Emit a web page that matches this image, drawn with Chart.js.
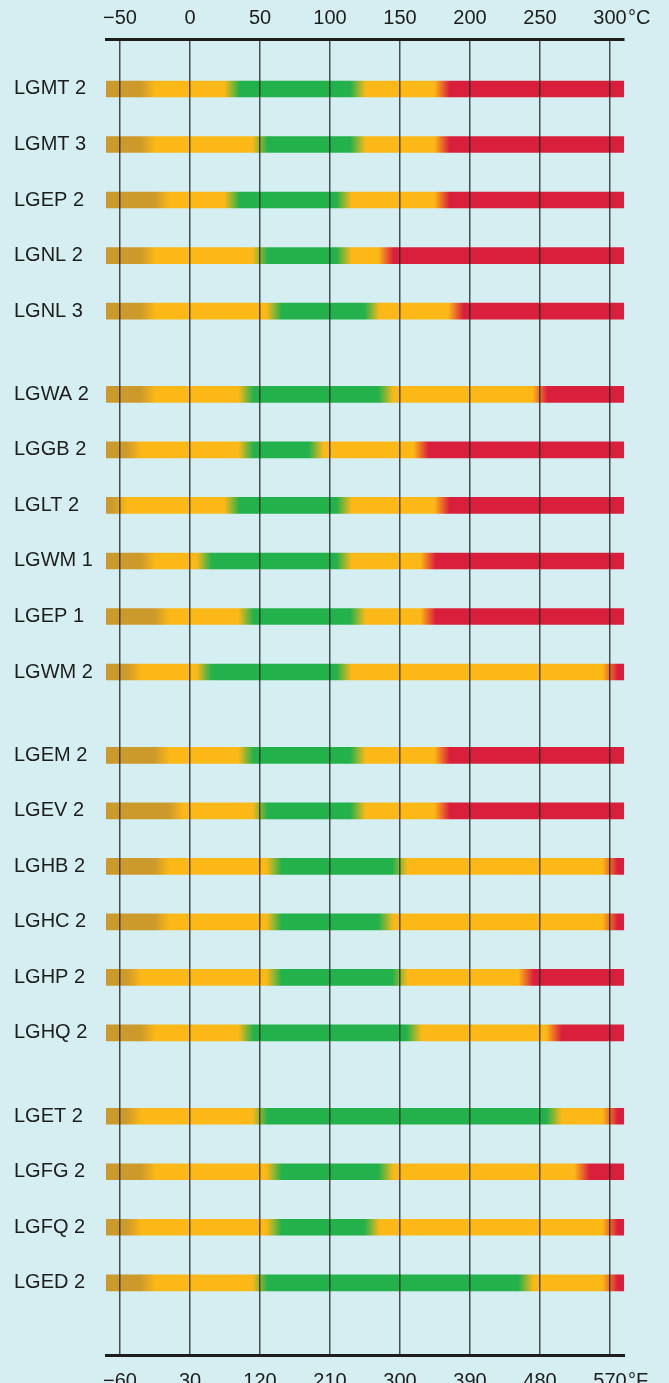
<!DOCTYPE html>
<html>
<head>
<meta charset="utf-8">
<script src="https://cdn.jsdelivr.net/npm/chart.js@4.4.1/dist/chart.umd.min.js"></script>
<style>
  html, body { margin: 0; padding: 0; background: #d5eef1; }
  canvas { display: block; }
</style>
</head>
<body>
<canvas id="tempChart" width="669" height="1383"></canvas>
<script>
// rows, top to bottom
const rowNames = ['LGMT 2', 'LGMT 3', 'LGEP 2', 'LGNL 2', 'LGNL 3',
    'LGWA 2', 'LGGB 2', 'LGLT 2', 'LGWM 1', 'LGEP 1', 'LGWM 2',
    'LGEM 2', 'LGEV 2', 'LGHB 2', 'LGHC 2', 'LGHP 2', 'LGHQ 2',
    'LGET 2', 'LGFG 2', 'LGFQ 2', 'LGED 2'];
const rowGroup = [0, 0, 0, 0, 0, 1, 1, 1, 1, 1, 1, 2, 2, 2, 2, 2, 2, 3, 3, 3, 3];

// temperature limits in °C where the colour changes
const goldEnd    = [-30, -30, -20, -30, -30, -30, -40, -50, -30, -20, -40, -20, -10, -20, -20, -40, -30, -40, -30, -40, -30];
const greenStart = [30, 50, 30, 50, 60, 40, 40, 30, 10, 40, 10, 40, 50, 60, 60, 60, 40, 50, 60, 60, 50];
const greenEnd   = [120, 120, 110, 110, 130, 140, 90, 110, 110, 120, 110, 120, 120, 150, 140, 150, 160, 260, 140, 130, 240];
const redStart   = [180, 180, 180, 140, 190, 250, 165, 180, 170, 170, 300, 180, 180, 300, 300, 240, 260, 300, 280, 300, 300];

const tempMin = -60;
const tempMax = 310;
const tickValues = [-50, 0, 50, 100, 150, 200, 250, 300];
const celsiusLabels = ['\u221250', '0', '50', '100', '150', '200', '250', '300'];
const fahrenheitLabels = ['\u221260', '30', '120', '210', '300', '390', '480', '570'];

const COLORS = {
    gold: '#cc992b',
    yellow: '#fcb817',
    green: '#23b14b',
    red: '#da1f3d',
    text: '#1d1d1b',
    grid: 'rgba(35, 38, 38, 0.8)'
};
const FONT = '"Liberation Sans", Arial, sans-serif';
const BLEND = 11; // width of the soft colour change, °C

function slot(i) {
    return i + rowGroup[i] * 0.5;
}

function barGradient(context) {
    if (context.type !== 'data') return COLORS.yellow;
    const chart = context.chart;
    const x = chart.scales.x;
    if (!x || !chart.chartArea) return COLORS.yellow;
    const i = context.dataIndex;
    const x0 = x.getPixelForValue(tempMin);
    const x1 = x.getPixelForValue(tempMax);
    const g = chart.ctx.createLinearGradient(x0, 0, x1, 0);
    const span = tempMax - tempMin;
    const pos = t => Math.min(1, Math.max(0, (t - tempMin) / span));
    const cuts = [goldEnd[i], greenStart[i], greenEnd[i], redStart[i]];
    const cols = [COLORS.gold, COLORS.yellow, COLORS.green, COLORS.yellow, COLORS.red];
    g.addColorStop(0, cols[0]);
    cuts.forEach((c, k) => {
        g.addColorStop(pos(c - BLEND / 2), cols[k]);
        g.addColorStop(pos(c + BLEND / 2), cols[k + 1]);
    });
    g.addColorStop(1, cols[4]);
    return g;
}

const unitLabels = {
    id: 'unitLabels',
    afterDraw(chart) {
        const { ctx, scales } = chart;
        ctx.save();
        ctx.font = '20px ' + FONT;
        ctx.fillStyle = COLORS.text;
        ctx.textAlign = 'left';
        ctx.textBaseline = 'middle';
        ctx.fillText('\u00b0C', scales.x.right + 4, scales.x.bottom - 9 - 12);
        ctx.fillText('\u00b0F', scales.x2.right + 4, scales.x2.top + 14 + 12);
        ctx.restore();
    }
};

new Chart(document.getElementById('tempChart'), {
    type: 'bar',
    data: {
        datasets: [{
            data: rowNames.map((n, i) => ({ x: [tempMin, tempMax], y: slot(i) })),
            backgroundColor: barGradient,
            borderWidth: 0,
            barThickness: 16
        }]
    },
    options: {
        indexAxis: 'y',
        responsive: false,
        animation: false,
        devicePixelRatio: 1,
        layout: { padding: { left: 14, right: 45, top: 0, bottom: 0 } },
        plugins: { legend: { display: false }, tooltip: { enabled: false } },
        scales: {
            x: {
                type: 'linear',
                position: 'top',
                min: tempMin,
                max: tempMax,
                afterBuildTicks: s => { s.ticks = tickValues.map(v => ({ value: v })); },
                afterFit: s => { s.height = 39; },
                grid: { color: COLORS.grid, lineWidth: 1.5, drawTicks: false, z: 1 },
                border: { display: true, color: COLORS.text, width: 3, z: 2 },
                ticks: {
                    autoSkip: false, maxRotation: 0, padding: 9,
                    color: COLORS.text, font: { family: FONT, size: 20 },
                    callback: (v, i) => celsiusLabels[i]
                }
            },
            x2: {
                type: 'linear',
                position: 'bottom',
                min: tempMin,
                max: tempMax,
                afterBuildTicks: s => { s.ticks = tickValues.map(v => ({ value: v })); },
                afterFit: s => { s.height = 28; },
                grid: { display: false, drawTicks: false },
                border: { display: true, color: COLORS.text, width: 3 },
                ticks: {
                    autoSkip: false, maxRotation: 0, padding: 14,
                    color: COLORS.text, font: { family: FONT, size: 20 },
                    callback: (v, i) => fahrenheitLabels[i]
                }
            },
            y: {
                type: 'linear',
                reverse: true,
                offset: false,
                min: -0.9,
                max: 22.8,
                afterBuildTicks: s => { s.ticks = rowNames.map((n, i) => ({ value: slot(i) })); },
                afterFit: s => { s.width = 92; },
                grid: { display: false, drawTicks: false, offset: false },
                border: { display: false },
                ticks: {
                    autoSkip: false, crossAlign: 'far', padding: 0,
                    color: COLORS.text, font: { family: FONT, size: 20 },
                    callback: (v, i) => rowNames[i]
                }
            }
        }
    },
    plugins: [unitLabels]
});
</script>
</body>
</html>
